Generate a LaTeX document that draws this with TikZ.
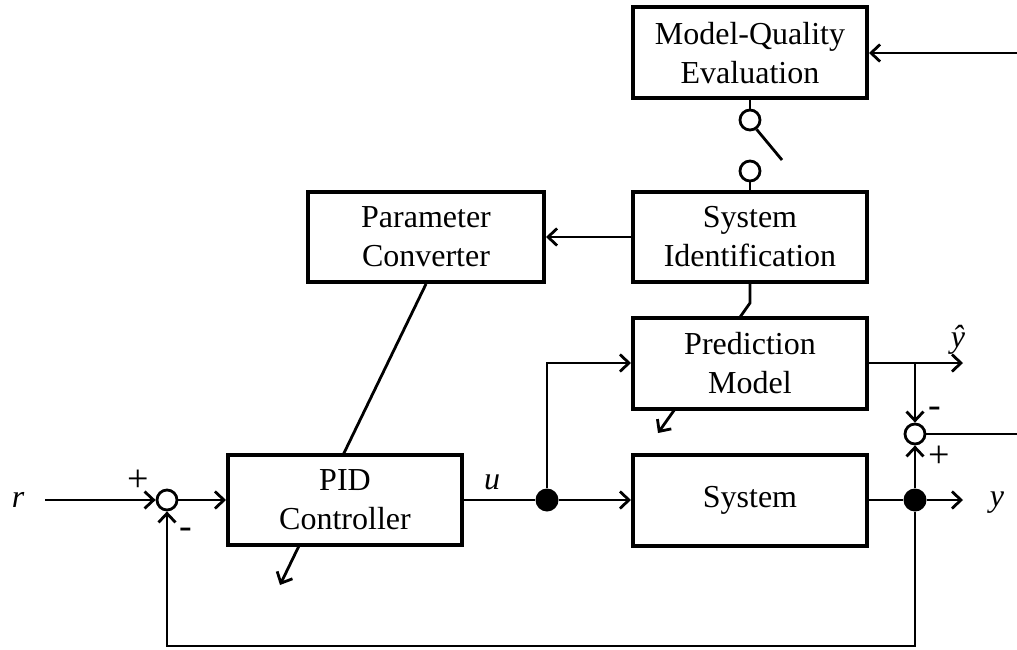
\documentclass[tikz,border=0pt]{standalone}
\usepackage{fontspec}
\setmainfont{Liberation Serif}
\usetikzlibrary{arrows.meta, positioning, calc, backgrounds}

\tikzset{
    block/.style={draw, line width=4pt, fill=white, align=center, minimum width=234pt,
        minimum height=90pt, font=\fontsize{32}{39}\selectfont},
    sumnode/.style={circle, draw, line width=2.8pt, fill=white, minimum size=20pt, inner sep=0pt},
    dotnode/.style={circle, fill=black, minimum size=23pt, inner sep=0pt},
    wire/.style={line width=2.8pt},
    flow/.style={wire, -{Straight Barb[length=9pt,width=17pt,line width=2.8pt]}},
    sig/.style={font=\fontsize{32}{39}\selectfont\itshape},
    sgn/.style={font=\fontsize{38}{42}\selectfont}
}

\begin{document}
\begin{tikzpicture}[x=1pt, y=-1pt]
    \useasboundingbox (0,0) rectangle (1017,650);
    \node[block, minimum height=91pt] (mqe) at (750,53) {Model-Quality\\Evaluation};
    \node[block] (sysid) at (750,237) {System\\Identification};
    \node[block, minimum width=236pt] (pconv) at (426,237) {Parameter\\Converter};
    \node[block, minimum height=91pt] (pred) at (750,363) {Prediction\\Model};
    \node[block, minimum height=91pt] (sys) at (750,500) {System};
    \node[block] (pid) at (345,500) {PID\\Controller};
    \node[sumnode] (sumr) at (167,500) {};
    \node[sumnode] (sumy) at (915,434) {};
    \node[dotnode] (du) at (547,500) {};
    \node[dotnode] (dy) at (915,500) {};
    \node[sumnode] (swa) at (750,120) {};
    \node[sumnode] (swb) at (750,171) {};
    \coordinate (rin) at (45,500);
    \coordinate (yout) at (963,500);
    \coordinate (yhatout) at (963,363);
    \coordinate (branch) at (915,363);
    \coordinate (fb) at (915,646);
    \coordinate (errout) at (1017,434);
    \coordinate (mqin) at (1017,53);
    \coordinate (blade) at (782,160);
    \coordinate (kpid) at (280,585);
    \coordinate (kpred) at (658,433);
    \coordinate (kbend) at (750,303);

    \begin{pgfonlayer}{background}
        \draw[flow] (pconv.south) -- (kpid);
        \draw[flow] (sysid.south) -- (kbend) -- (kpred);
    \end{pgfonlayer}

    \draw[flow] (rin) -- (sumr.west);
    \draw[flow] (sumr.east) -- (pid.west);
    \draw[wire] (pid.east) -- (du);
    \draw[flow] (du) -- (sys.west);
    \draw[flow] (du) |- (pred.west);
    \draw[wire] (sys.east) -- (dy);
    \draw[flow] (dy) -- (yout);
    \draw[flow] (dy) -- (fb) -| (sumr.south);
    \draw[flow] (dy) -- (sumy.south);
    \draw[flow] (pred.east) -- (yhatout);
    \draw[flow] (branch) -- (sumy.north);
    \draw[wire] (sumy.east) -- (errout);
    \draw[flow] (mqin) -- (mqe.east);
    \draw[wire] (mqe.south) -- (swa.north);
    \draw[wire] (swa.-55) -- (blade);
    \draw[wire] (swb.south) -- (sysid.north);
    \draw[flow] (sysid.west) -- (pconv.east);

    \node[sig] (lr) at (18,500) {r};
    \node[sig] (lu) at (492,482) {u};
    \node[sig] (ly) at (997,503) {y};
    \node[sig] (lyhat) at (958,340) {ŷ};
    \node[sgn] (pr) at (138,481) {+};
    \node[sgn] (mr) at (186,533) {-};
    \node[sgn] (my) at (935,412) {-};
    \node[sgn] (py) at (939,457) {+};
\end{tikzpicture}
\end{document}
